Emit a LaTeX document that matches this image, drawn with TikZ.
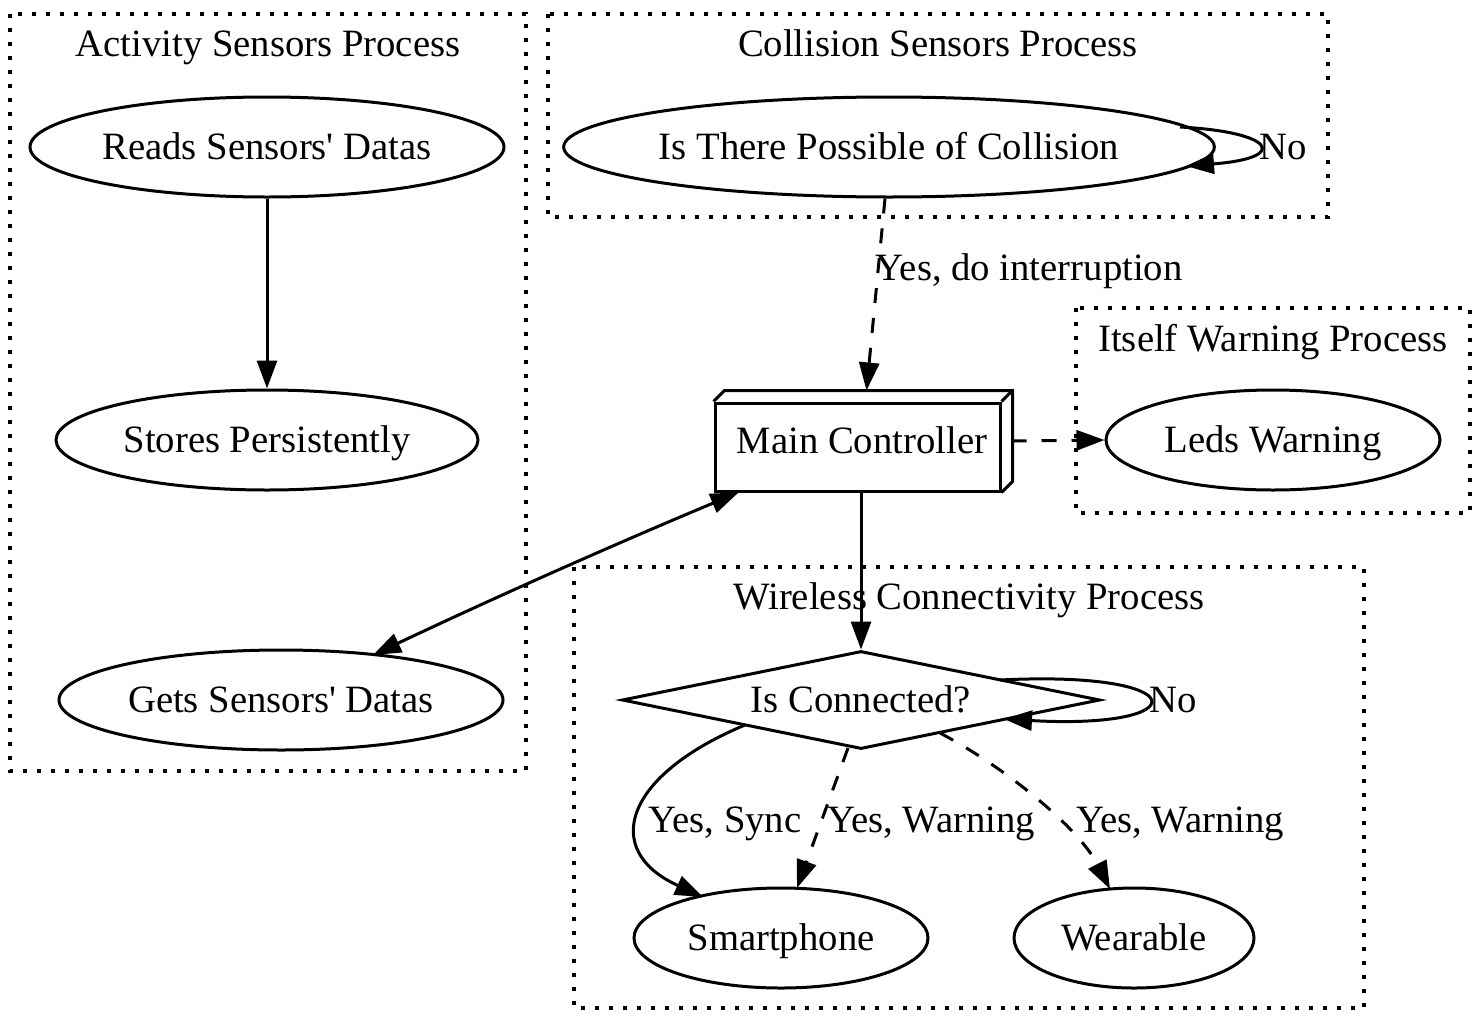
\documentclass[tikz,border=0pt]{standalone}
\usepackage{fontspec}
\setmainfont{Liberation Serif}[Ligatures=TeXOff]
\usetikzlibrary{shapes.geometric,arrows.meta,calc}
\begin{document}
\begin{tikzpicture}[x=1pt,y=-1pt,
  every node/.style={font=\fontsize{38.7}{46}\selectfont,text height=33pt,text depth=7.4pt},
  ell/.style={draw,ellipse,line width=3pt,inner sep=0pt},
  clusterbox/.style={line width=3.2pt,dash pattern=on 4pt off 10pt},
  edge/.style={line width=3pt,-{Triangle[length=28pt,width=20pt]}},
  dedge/.style={edge,dash pattern=on 15pt off 15pt},
  lbl/.style={inner sep=0pt}
]
\useasboundingbox (0,0) rectangle (1480,1020);
% clusters
\draw[clusterbox] (10,14) rectangle (526,771);
\draw[clusterbox] (548,14) rectangle (1328,217);
\draw[clusterbox] (1076,308) rectangle (1470,513);
\draw[clusterbox] (574,567) rectangle (1364,1008);
\node[lbl] (lact) at (268,44) {Activity Sensors Process};
\node[lbl] (lcol) at (938,44) {Collision Sensors Process};
\node[lbl] (litw) at (1273,339) {Itself Warning Process};
\node[lbl] (lwir) at (969,597) {Wireless Connectivity Process};
% nodes
\node[ell,minimum width=474pt,minimum height=100pt] (reads) at (267,147) {Reads Sensors' Datas};
\node[ell,minimum width=422pt,minimum height=100pt] (stores) at (267,440) {Stores Persistently};
\node[ell,minimum width=444pt,minimum height=100pt] (gets) at (281,700) {Gets Sensors' Datas};
\node[ell,minimum width=638pt,minimum height=100pt] (coll) at (889,147) {Is There Possible of Collision};
\node[ell,minimum width=334pt,minimum height=100pt] (leds) at (1273,440) {Leds Warning};
\node[ell,minimum width=294pt,minimum height=100pt] (smart) at (781,938) {Smartphone};
\node[ell,minimum width=240pt,minimum height=100pt] (wear) at (1134,938) {Wearable};
\node[draw,rectangle,line width=3pt,minimum width=285pt,minimum height=88pt,inner sep=0pt] (main) at (857.5,447) {};
\node[lbl] (maintxt) at (862,441) {Main Controller};
\draw[line width=3pt,line join=miter] (main.north west) -- ++(11,-11) -- ([shift={(11,-11)}]main.north east) -- ([shift={(11,-11)}]main.south east) -- (main.south east);
\draw[line width=3pt] (main.north east) -- ++(11,-11);
\node[draw,diamond,line width=3pt,inner sep=0pt,minimum width=478pt,minimum height=98pt,aspect=4.88] (conn) at (861,700) {};
\node[lbl] (conntxt) at (861,700) {Is Connected?};
% edges
\draw[edge] (reads.south) -- (stores.north);
\draw[dedge] ([xshift=-4]coll.south) -- ([shift={(9,-11)}]main.north) node[lbl,pos=0.36,anchor=west,xshift=-4pt] (lint) {Yes, do interruption};
\draw[edge] (1180,127) .. controls (1275,132) and (1290,158) .. (1186,166);
\node[lbl,anchor=west] (lno1) at (1259,147) {No};
\draw[dedge] ([shift={(10,-6)}]main.east) -- (leds.west);
\draw[line width=3pt,{Triangle[length=28pt,width=20pt]}-{Triangle[length=28pt,width=20pt]}] ([shift={(92,-45)}]gets.center) .. controls (500,595) and (620,542) .. ([xshift=25]main.south west);
\draw[edge] (main.south -| conn.north) -- (conn.north);
\draw[edge] (1000,680) .. controls (1197,670) and (1197,730) .. (1004,719);
\node[lbl,anchor=west] (lno2) at (1149,700) {No};
\draw[edge] (745,725) .. controls (625,775) and (600,850) .. (703,897);
\node[lbl] (lsync) at (725,820) {Yes, Sync};
\draw[dedge] (848,748) -- (797,888);
\node[lbl] (lw1) at (931,820) {Yes, Warning};
\draw[dedge] (940,733) .. controls (1010,770) and (1080,830) .. (1110,889);
\node[lbl] (lw2) at (1180,820) {Yes, Warning};
\end{tikzpicture}
\end{document}
